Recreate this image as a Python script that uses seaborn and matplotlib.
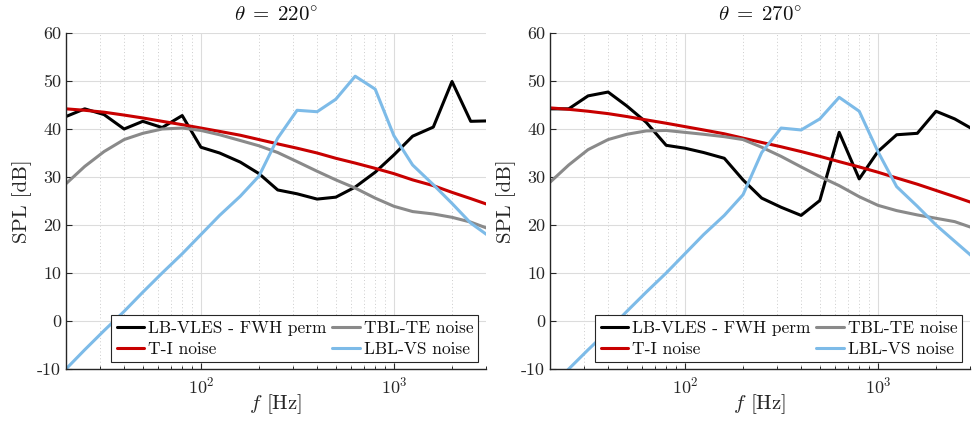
import matplotlib
matplotlib.use("Agg")
import matplotlib.pyplot as plt
import seaborn as sns
import numpy as np
import pandas as pd

# One-third octave band centre frequencies [Hz]
freq = [20, 25, 31.5, 40, 50, 63, 80, 100, 125, 160, 200, 250, 315, 400,
        500, 630, 800, 1000, 1250, 1600, 2000, 2500, 3150]

# theta = 220 deg
vles_220 = [42.6, 44.2, 43.0, 40.0, 41.6, 40.3, 42.8, 36.2, 35.0, 33.1, 30.7, 27.3,
            26.5, 25.4, 25.8, 27.9, 31.0, 34.6, 38.5, 40.4, 49.9, 41.6, 41.7]
tbl_220 = [28.6, 32.2, 35.3, 37.8, 39.1, 40.0, 40.2, 39.7, 38.8, 37.6, 36.5, 35.1,
           33.2, 31.2, 29.4, 27.7, 25.6, 23.9, 22.8, 22.3, 21.6, 20.6, 19.1]
ti_220 = [44.2, 43.9, 43.5, 42.9, 42.3, 41.6, 40.9, 40.2, 39.5, 38.7, 37.8, 36.9,
          36.0, 35.0, 33.9, 32.9, 31.8, 30.7, 29.4, 28.2, 26.8, 25.5, 24.1]
lbl_220 = [-10.0, -6.0, -2.0, 2.0, 6.0, 10.0, 14.0, 18.0, 22.0, 26.0, 30.2, 38.1,
           43.9, 43.6, 46.2, 51.0, 48.3, 38.6, 32.5, 28.4, 24.5, 20.4, 17.5]

# theta = 270 deg
vles_270 = [44.2, 44.2, 46.9, 47.7, 44.8, 41.4, 36.6, 36.0, 35.1, 33.9, 29.4, 25.6,
            23.7, 22.0, 25.1, 39.3, 29.6, 35.3, 38.8, 39.1, 43.7, 42.1, 39.8]
tbl_270 = [28.9, 32.5, 35.7, 37.8, 38.9, 39.6, 39.7, 39.3, 38.9, 38.4, 37.8, 36.2,
           34.3, 32.1, 30.1, 28.2, 25.9, 24.1, 23.0, 22.1, 21.4, 20.7, 19.3]
ti_270 = [44.4, 44.1, 43.7, 43.2, 42.6, 41.9, 41.2, 40.5, 39.8, 39.0, 38.1, 37.2,
          36.3, 35.3, 34.3, 33.2, 32.1, 31.0, 29.8, 28.5, 27.2, 25.9, 24.5]
lbl_270 = [-14.0, -10.0, -6.0, -2.0, 2.0, 6.0, 10.0, 14.0, 18.0, 22.0, 26.3, 35.1,
           40.2, 39.8, 42.1, 46.6, 43.7, 35.3, 28.0, 23.9, 20.0, 16.6, 13.1]

angles = [220, 270]
series_names = ["LB-VLES - FWH perm", "T-I noise", "TBL-TE noise", "LBL-VS noise"]
series_colors = ["#000000", "#c80000", "#8a8a8a", "#7dbbe8"]

panels = {
    220: [vles_220, ti_220, tbl_220, lbl_220],
    270: [vles_270, ti_270, tbl_270, lbl_270],
}

sns.set_theme(style="white")
plt.rcParams.update({
    "font.family": "cmr10",
    "mathtext.fontset": "cm",
    "axes.unicode_minus": False,
    "axes.formatter.use_mathtext": False,
    "axes.edgecolor": "#262626",
    "xtick.color": "#262626",
    "ytick.color": "#262626",
    "text.color": "#111111",
})

fig = plt.figure(figsize=(9.74, 4.25), dpi=100)
positions = [[66 / 974, 56 / 425, 420 / 974, 336 / 425],
             [550 / 974, 56 / 425, 420 / 974, 336 / 425]]

for pos, ang in zip(positions, angles):
    ax = fig.add_axes(pos)
    rows = []
    for name, vals in zip(series_names, panels[ang]):
        for f, v in zip(freq, vals):
            rows.append({"f": f, "SPL": v, "series": name})
    df = pd.DataFrame(rows)
    sns.lineplot(data=df, x="f", y="SPL", hue="series", hue_order=series_names,
                 palette=series_colors, linewidth=2.2, ax=ax, legend=False,
                 estimator=None, sort=False)
    ax.set_xscale("log")
    ax.set_xlim(20, 3000)
    ax.set_ylim(-10, 60)
    ax.set_yticks(np.arange(-10, 61, 10))
    ax.set_yticklabels([str(v) for v in range(-10, 61, 10)])

    ax.grid(True, which="major", color="#dcdcdc", linewidth=0.8, linestyle="-")
    ax.grid(True, which="minor", axis="x", color="#cccccc", linewidth=0.7,
            linestyle=(0, (1, 2.5)))
    ax.set_axisbelow(True)

    for side in ["top", "right"]:
        ax.spines[side].set_visible(False)
    for side in ["left", "bottom"]:
        ax.spines[side].set_linewidth(1.0)
    ax.tick_params(axis="both", which="both", direction="in", labelsize=13,
                   left=True, bottom=True)
    ax.tick_params(axis="both", which="major", length=4, width=0.8)
    ax.tick_params(axis="x", which="minor", length=2.5, width=0.7)
    ax.tick_params(axis="x", which="major", pad=5)

    ax.set_title(r"$\theta\;=\;%d^{\circ}$" % ang, fontsize=15, pad=8)
    ax.set_xlabel(r"$f$ [Hz]", fontsize=15, labelpad=-3)
    ax.set_ylabel("SPL [dB]", fontsize=15, labelpad=4)

    handles = [plt.Line2D([], [], color=c, linewidth=2.2) for c in series_colors]
    leg = ax.legend(handles, series_names,
                    ncol=2, loc="lower right", bbox_to_anchor=(0.982, 0.02),
                    fontsize=12.5, frameon=True, fancybox=False, framealpha=1,
                    handlelength=1.6, handletextpad=0.2, columnspacing=0.35,
                    labelspacing=0.35, borderpad=0.3, borderaxespad=0)
    leg.get_frame().set_edgecolor("#262626")
    leg.get_frame().set_linewidth(0.8)

fig.savefig("out.png", dpi=100)
